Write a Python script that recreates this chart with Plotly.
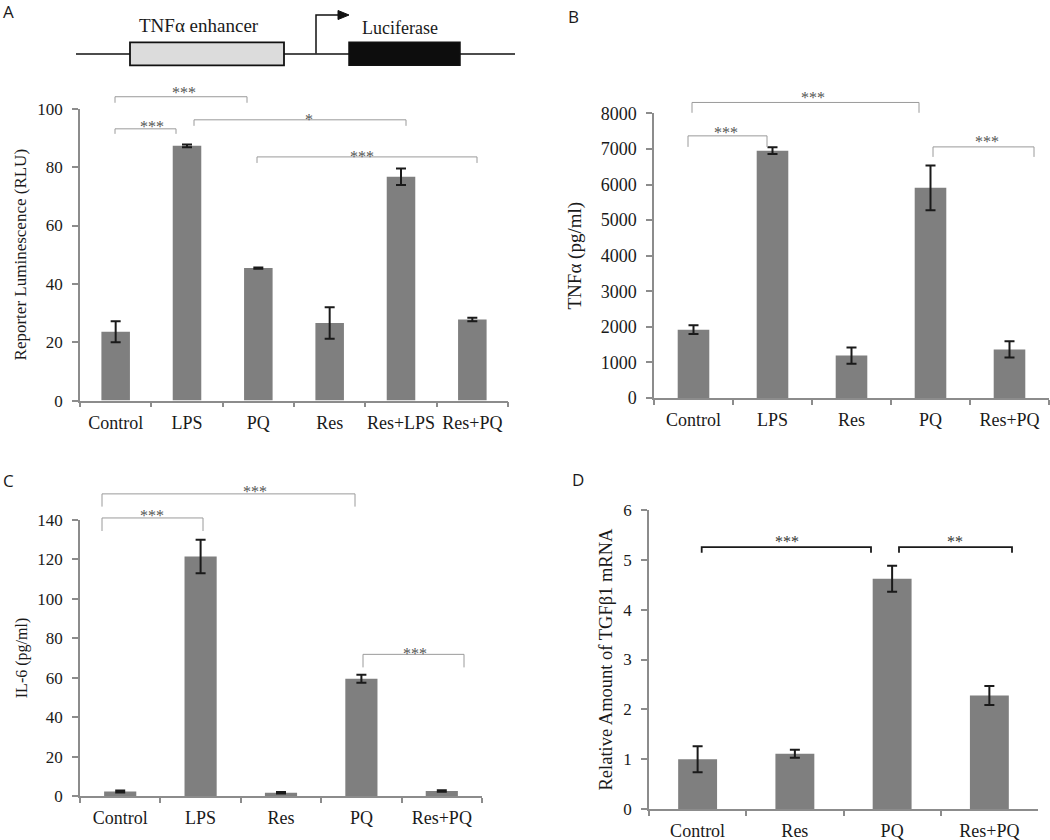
import plotly.graph_objects as go

# ---------------- data ----------------
cats_a = ["Control", "LPS", "PQ", "Res", "Res+LPS", "Res+PQ"]
rlu_mean = [23.6, 87.3, 45.4, 26.6, 76.7, 27.8]
rlu_err = [3.6, 0.5, 0.2, 5.4, 2.8, 0.6]

cats_b = ["Control", "LPS", "Res", "PQ", "Res+PQ"]
tnf_mean = [1920, 6955, 1190, 5910, 1365]
tnf_err = [125, 95, 230, 630, 230]

cats_c = ["Control", "LPS", "Res", "PQ", "Res+PQ"]
il6_mean = [2.3, 121.5, 1.7, 59.5, 2.6]
il6_err = [0.5, 8.5, 0.4, 2.0, 0.4]

cats_d = ["Control", "Res", "PQ", "Res+PQ"]
tgf_mean = [1.0, 1.11, 4.62, 2.28]
tgf_err = [0.26, 0.08, 0.26, 0.19]

# ---------------- layout helpers ----------------
W = 1050
H = 862
OFF, SC = 10.5, 0.974     # observed screen mapping: screen_y = OFF + SC * figure_y
def px(x):
    return x / W
def fy(y):
    return (y - OFF) / SC
def py(y):
    return 1 - fy(y) / H

SERIF = "Liberation Serif"
SANS = "Open Sans"
BAR = "#7f7f7f"
AXC = "#8c8c8c"
TXT = "#1a1a1a"

fig = go.Figure()

panels = [
    # x, y, cats, mean, err, x domain px, y domain px (top, bottom), y range, dtick,
    # y title, title size, title standoff, tick size
    ("x", "y", cats_a, rlu_mean, rlu_err, (80, 508), (109, 400), [0, 100], 20,
     "Reporter Luminescence (RLU)", 17, 6, 17),
    ("x2", "y2", cats_b, tnf_mean, tnf_err, (654, 1049), (113.7, 397.3), [0, 8000], 1000,
     "TNFα (pg/ml)", 19, 14, 18),
    ("x3", "y3", cats_c, il6_mean, il6_err, (80, 482), (519, 794.3), [0, 140], 20,
     "IL-6 (pg/ml)", 16, 6, 17),
    ("x4", "y4", cats_d, tgf_mean, tgf_err, (649, 1038), (509, 807.3), [0, 6], 1,
     "Relative Amount of TGFβ1 mRNA", 18.5, 6, 17),
]

for i, (xa, ya, cats, mean, err, xd, yd, yr, dt, ytitle, tsz, so, tks) in enumerate(panels):
    fig.add_trace(go.Bar(
        x=cats, y=mean, xaxis=xa, yaxis=ya, width=0.4,
        marker=dict(color=BAR, line=dict(width=0)),
        error_y=dict(type="data", array=err, visible=True, color=TXT,
                     thickness=2, width=5),
        showlegend=False, hoverinfo="x+y",
    ))
    sfx = "" if i == 0 else str(i + 1)
    fig.layout["xaxis" + sfx] = dict(
        domain=[px(xd[0]), px(xd[1])], anchor=ya, range=[-0.5, len(cats) - 0.5],
        type="category", showline=True, linecolor=AXC, linewidth=1.5,
        ticks="outside", tickson="boundaries", ticklen=5, tickcolor=AXC, tickwidth=1.5,
        tickfont=dict(family=SERIF, size=18, color=TXT), showgrid=False, tickangle=0,
        zeroline=False, fixedrange=True, ticklabelstandoff=5,
    )
    fig.layout["yaxis" + sfx] = dict(
        domain=[py(yd[1]), py(yd[0])], anchor=xa, range=yr, dtick=dt,
        showline=True, linecolor=AXC, linewidth=1.5, ticks="outside", ticklen=6,
        tickcolor=AXC, tickwidth=1.5, ticklabelstandoff=6,
        tickfont=dict(family=SERIF, size=tks, color=TXT), showgrid=False,
        zeroline=False, fixedrange=True,
        title=dict(text=ytitle, font=dict(family=SERIF, size=tsz, color=TXT), standoff=so),
    )

shapes = []
annotations = []

# significance brackets (pixel positions): x0, x1, line y, tick end y, label, label x, label y, style
brackets = [
    (115, 247, 97, 103, "***", 184, 89, "g"),
    (115, 176, 129, 134, "***", 152, 123, "g"),
    (194, 406, 120, 126, "*", 309, 116, "g"),
    (257, 477, 157, 163, "***", 362, 153, "g"),
    (692, 919, 102.7, 113, "***", 813, 94, "g"),
    (688, 767, 136, 147, "***", 726, 129, "g"),
    (933, 1034, 147, 157, "***", 987, 138, "g"),
    (102, 355, 493, 505.7, "***", 255, 487, "g"),
    (102, 203, 517, 530, "***", 152, 511, "g"),
    (363, 464, 653, 666, "***", 415, 648, "g"),
    (701.7, 871, 546, 551.7, "***", 786.7, 536.7, "k"),
    (899, 1012, 546, 551.7, "**", 955, 536.7, "k"),
]
for x0, x1, yl, yt, lab, lx, ly, st in brackets:
    col = "#9a9a9a" if st == "g" else "#1a1a1a"
    lw = 1 if st == "g" else 1.8
    shapes.append(dict(
        type="path", xref="paper", yref="paper",
        path=f"M {px(x0)},{py(yt)} L {px(x0)},{py(yl)} L {px(x1)},{py(yl)} L {px(x1)},{py(yt)}",
        line=dict(color=col, width=lw),
    ))
    annotations.append(dict(
        text=lab, x=px(lx), y=py(ly + 4), xref="paper", yref="paper",
        xanchor="center", yanchor="middle", showarrow=False,
        font=dict(family=SERIF, size=16, color="#555555" if st == "g" else "#333333"),
    ))

# panel letters
for lab, lx, ly in [("A", 8, 12), ("B", 573, 17), ("C", 8, 480), ("D", 578, 479)]:
    annotations.append(dict(text=lab, x=px(lx), y=py(ly), xref="paper", yref="paper",
                            xanchor="center", yanchor="middle", showarrow=False,
                            font=dict(family=SANS, size=17, color=TXT)))

# construct diagram (panel A)
shapes += [
    dict(type="line", xref="paper", yref="paper", x0=px(76), x1=px(515), y0=py(54.3), y1=py(54.3),
         line=dict(color="#111111", width=1.5)),
    dict(type="rect", xref="paper", yref="paper", x0=px(130), x1=px(284), y0=py(65.7), y1=py(42.7),
         fillcolor="#dcdcdc", line=dict(color="#111111", width=1.8)),
    dict(type="rect", xref="paper", yref="paper", x0=px(349), x1=px(460), y0=py(65.7), y1=py(42.7),
         fillcolor="#0d0d0d", line=dict(color="#111111", width=1.5)),
    dict(type="path", xref="paper", yref="paper",
         path=f"M {px(316)},{py(54)} L {px(316)},{py(15.5)} L {px(339)},{py(15.5)}",
         line=dict(color="#111111", width=1.5)),
    dict(type="path", xref="paper", yref="paper",
         path=f"M {px(338)},{py(11)} L {px(349)},{py(15.5)} L {px(338)},{py(20)} Z",
         fillcolor="#111111", line=dict(color="#111111", width=1)),
]
annotations += [
    dict(text="TNFα enhancer", x=px(199), y=py(26), xref="paper", yref="paper",
         xanchor="center", yanchor="middle", showarrow=False,
         font=dict(family=SERIF, size=19, color=TXT)),
    dict(text="Luciferase", x=px(400), y=py(28), xref="paper", yref="paper",
         xanchor="center", yanchor="middle", showarrow=False,
         font=dict(family=SERIF, size=18, color=TXT)),
]

fig.update_layout(
    width=W, height=H, margin=dict(l=0, r=0, t=0, b=0),
    plot_bgcolor="white", paper_bgcolor="white",
    shapes=shapes, annotations=annotations, showlegend=False,
    bargap=0.6,
)

fig.write_html("out.html", config={"displayModeBar": False},
               post_script="document.body.style.margin='0px';")
